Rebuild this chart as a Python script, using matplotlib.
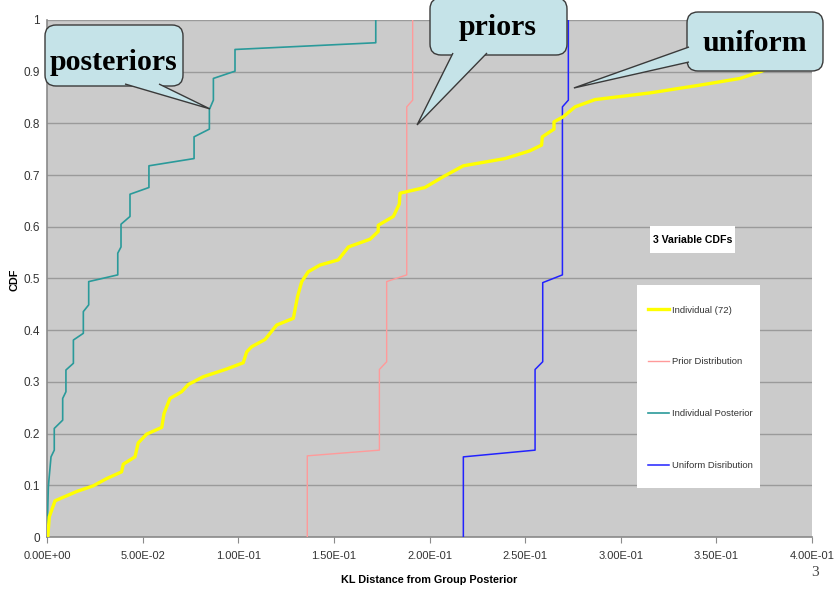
import numpy as np
import matplotlib
matplotlib.use('Agg')
import matplotlib.pyplot as plt
from matplotlib.patches import FancyBboxPatch, Polygon, Rectangle
from matplotlib.ticker import FuncFormatter, MultipleLocator

SANS = ['Liberation Sans', 'DejaVu Sans']
SERIF = ['Liberation Serif', 'DejaVu Serif']

# CDF curves
indiv_x = [0.0004, 0.0012, 0.0042, 0.0155, 0.0242, 0.0312, 0.039, 0.0399, 0.046, 0.0477,
           0.0521, 0.060, 0.0612, 0.0643, 0.0704, 0.0739, 0.0817, 0.094, 0.1026, 0.1044,
           0.107, 0.114, 0.1201, 0.1288, 0.131, 0.1332, 0.1366, 0.1427, 0.1523, 0.1576,
           0.1689, 0.1732, 0.1732, 0.1811, 0.1842, 0.1846, 0.1976, 0.2072, 0.2177, 0.2395,
           0.2525, 0.2586, 0.259, 0.2651, 0.2651, 0.270, 0.2761, 0.2865, 0.3153, 0.3414,
           0.3624, 0.3737, 0.382]
indiv_y = [0.0, 0.039, 0.070, 0.088, 0.099, 0.113, 0.126, 0.141, 0.155, 0.182,
           0.199, 0.212, 0.239, 0.268, 0.281, 0.295, 0.310, 0.325, 0.337, 0.358,
           0.368, 0.382, 0.410, 0.423, 0.465, 0.494, 0.513, 0.526, 0.536, 0.561,
           0.576, 0.591, 0.603, 0.620, 0.644, 0.665, 0.676, 0.697, 0.718, 0.732,
           0.747, 0.758, 0.774, 0.789, 0.803, 0.813, 0.832, 0.846, 0.859, 0.874,
           0.887, 0.901, 0.915]

prior_x = [0.1361, 0.1361, 0.1738, 0.1738, 0.1776, 0.1776, 0.1881, 0.1881, 0.1912, 0.1912]
prior_y = [0.0, 0.157, 0.168, 0.324, 0.339, 0.494, 0.507, 0.832, 0.845, 1.0]

post_x = [0.0, 0.0007, 0.001, 0.0021, 0.0038, 0.0038, 0.0082, 0.0082, 0.0099, 0.0099,
          0.0138, 0.0138, 0.019, 0.019, 0.0218, 0.0218, 0.037, 0.037, 0.0387, 0.0387,
          0.0434, 0.0434, 0.0533, 0.0533, 0.0769, 0.0769, 0.0849, 0.0849, 0.087, 0.087,
          0.0983, 0.0983, 0.1719, 0.1719]
post_y = [0.0, 0.097, 0.110, 0.155, 0.168, 0.210, 0.226, 0.268, 0.281, 0.323,
          0.336, 0.381, 0.394, 0.436, 0.449, 0.494, 0.507, 0.549, 0.561, 0.605,
          0.620, 0.663, 0.676, 0.718, 0.732, 0.774, 0.789, 0.827, 0.845, 0.887,
          0.901, 0.943, 0.956, 1.0]

unif_x = [0.2177, 0.2177, 0.2552, 0.2552, 0.2592, 0.2592, 0.2695, 0.2695, 0.2726, 0.2726]
unif_y = [0.0, 0.155, 0.168, 0.324, 0.339, 0.492, 0.507, 0.832, 0.845, 1.0]

series_labels = ['Individual (72)', 'Prior Distribution', 'Individual Posterior', 'Uniform Disribution']
x_ticks = [0.0, 0.05, 0.10, 0.15, 0.20, 0.25, 0.30, 0.35, 0.40]

W, H = 835, 592
# plot area in picture pixels
L, R, T, B = 47, 812, 20, 537


def axf(x, y):
    # picture pixel -> axes fraction
    return ((x - L) / (R - L), (B - y) / (B - T))


fig = plt.figure(figsize=(W / 100, H / 100), dpi=100)
fig.patch.set_facecolor('white')
ax = fig.add_axes([L / W, 1 - B / H, (R - L) / W, (B - T) / H])
ax.set_facecolor('#cbcbcb')

ax.plot(indiv_x, indiv_y, color='#ffff00', lw=2.4, label=series_labels[0], zorder=5)
ax.plot(prior_x, prior_y, color='#ff9a9a', lw=1.0, label=series_labels[1], zorder=4)
ax.plot(post_x, post_y, color='#2a9a9a', lw=1.2, label=series_labels[2], zorder=4)
ax.plot(unif_x, unif_y, color='#2222ff', lw=1.1, label=series_labels[3], zorder=4)

ax.set_xlim(0, 0.4)
ax.set_ylim(0, 1)
ax.set_xticks(x_ticks)
ax.xaxis.set_major_formatter(FuncFormatter(lambda v, p: f'{v:.2E}'))
ax.yaxis.set_major_locator(MultipleLocator(0.1))
ax.yaxis.set_major_formatter(FuncFormatter(lambda v, p: f'{v:g}'))
ax.grid(axis='y', color='#9a9a9a', lw=1.0)
ax.set_axisbelow(True)
for s in ['top', 'right']:
    ax.spines[s].set_visible(False)
for s in ['left', 'bottom']:
    ax.spines[s].set_color('#8a8a8a')
    ax.spines[s].set_linewidth(1.2)
ax.tick_params(axis='x', length=4, color='#8a8a8a', pad=6, labelsize=8, labelcolor='#333333')
ax.tick_params(axis='y', length=0, pad=5, labelsize=8.5, labelcolor='#333333')
for lab in ax.get_xticklabels() + ax.get_yticklabels():
    lab.set_family(SANS)

ax.set_xlabel('KL Distance from Group Posterior', family=SANS, fontsize=7.8,
              fontweight='bold', labelpad=10)
fig.text(15 / W, 1 - 280 / H, 'CDF', rotation=90, ha='center', va='center',
         family=SANS, fontsize=7.8, fontweight='bold')

# legend: white panel plus frameless legend on top
lx0, ly0 = axf(637, 488)
lx1, ly1 = axf(760, 285)
ax.add_patch(Rectangle((lx0, ly0), lx1 - lx0, ly1 - ly0, transform=ax.transAxes,
                       fc='white', ec='none', zorder=7))
leg_fs = 6.8
fs_px = leg_fs * 100 / 72
leg = ax.legend(loc='upper left', bbox_to_anchor=axf(648, 310 - 0.45 * fs_px),
                prop={'family': SANS, 'size': leg_fs}, frameon=False,
                borderpad=0, labelspacing=(51 - 0.88 * fs_px) / fs_px,
                handlelength=21 / fs_px, handletextpad=3 / fs_px, borderaxespad=0)
leg.set_zorder(8)
for t in leg.get_texts():
    t.set_color('#333333')

bx0, by0 = axf(650, 253)
bx1, by1 = axf(735, 226)
ax.add_patch(Rectangle((bx0, by0), bx1 - bx0, by1 - by0, transform=ax.transAxes,
                       fc='white', ec='none', zorder=7))
ax.text(*axf(692.5, 240), '3 Variable CDFs', transform=ax.transAxes,
        ha='center', va='center', family=SANS, fontsize=7.6, fontweight='bold', zorder=8)

fig.text(815 / W, 1 - 572 / H, '3', family=SERIF, fontsize=11, color='#444444',
         ha='center', va='center')


# callout bubbles
def px(x, y):
    return (x, H - y)


def callout(box, base, tip, label, text_xy):
    x0, y0, x1, y1 = box
    fc, ec = '#c5e3e8', '#3a3a3a'
    patch = FancyBboxPatch((x0, H - y1), x1 - x0, y1 - y0,
                           boxstyle='round,pad=0,rounding_size=11',
                           fc=fc, ec=ec, lw=1.0, transform=None, zorder=20)
    fig.patches.append(patch)
    tx, ty = ax.transData.transform(tip)
    pts = [px(*base[0]), (tx, ty), px(*base[1])]
    poly = Polygon(pts, closed=False, fc=fc, ec=ec, lw=1.0, transform=None, zorder=21)
    fig.patches.append(poly)
    fig.text(text_xy[0] / W, 1 - text_xy[1] / H, label, family=SERIF, fontsize=21.5,
             fontweight='bold', ha='center', va='baseline', zorder=22)


callout((45, 25, 183, 86), [(125, 84), (159, 84)], (0.0852, 0.828), 'posteriors', (113, 70))
callout((430, -2, 567, 55), [(453, 53), (487, 53)], (0.1935, 0.797), 'priors', (498, 35))
callout((687, 12, 823, 71), [(689, 47), (689, 62)], (0.2755, 0.8685), 'uniform', (755, 51))

fig.savefig('out.png', dpi=100)
